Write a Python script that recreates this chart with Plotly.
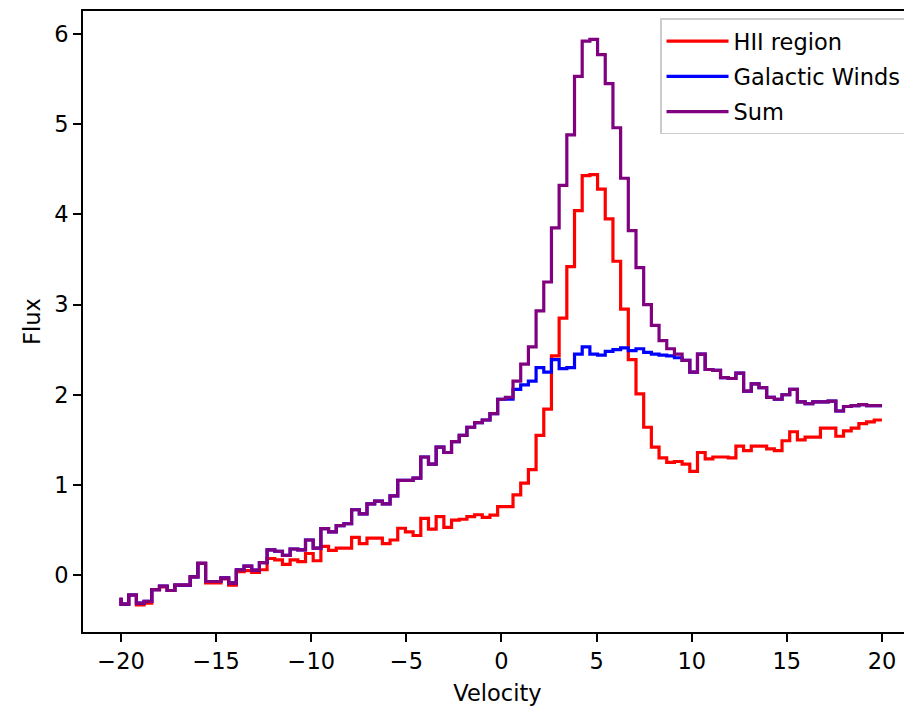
import numpy as np
import plotly.graph_objects as go

# Velocity grid (100 points from -20 to 20)
velocity = np.linspace(-20, 20, 100)

hii_region = [
    -0.25, -0.32, -0.22, -0.33, -0.31, -0.16, -0.13, -0.17, -0.11, -0.11,
    -0.02, 0.13, -0.085, -0.085, -0.04, -0.11, 0.04, 0.05, 0.03, 0.06,
    0.185, 0.17, 0.12, 0.17, 0.15, 0.24, 0.16, 0.32, 0.275, 0.30,
    0.30, 0.42, 0.35, 0.41, 0.41, 0.35, 0.39, 0.52, 0.48, 0.44,
    0.63, 0.51, 0.65, 0.53, 0.61, 0.62, 0.65, 0.67, 0.64, 0.665,
    0.76, 0.76, 0.89, 1.02, 1.17, 1.55, 1.84, 2.43, 2.85, 3.42,
    4.04, 4.43, 4.44, 4.28, 3.95, 3.48, 2.95, 2.39, 2.01, 1.64,
    1.42, 1.30, 1.25, 1.26, 1.23, 1.15, 1.36, 1.29, 1.31, 1.31,
    1.30, 1.43, 1.38, 1.43, 1.43, 1.40, 1.38, 1.49, 1.59, 1.50,
    1.53, 1.53, 1.63, 1.63, 1.54, 1.60, 1.63, 1.68, 1.70, 1.72,
]

galactic_winds = [
    -0.25, -0.32, -0.22, -0.31, -0.29, -0.16, -0.12, -0.17, -0.11, -0.11,
    -0.02, 0.13, -0.07, -0.07, -0.03, -0.085, 0.06, 0.10, 0.055, 0.14,
    0.28, 0.265, 0.22, 0.29, 0.28, 0.39, 0.30, 0.515, 0.48, 0.55,
    0.57, 0.725, 0.68, 0.79, 0.82, 0.79, 0.88, 1.05, 1.05, 1.075,
    1.31, 1.23, 1.42, 1.36, 1.48, 1.55, 1.64, 1.69, 1.72, 1.79,
    1.95, 1.95, 2.06, 2.11, 2.15, 2.30, 2.25, 2.39, 2.29, 2.30,
    2.45, 2.53, 2.45, 2.44, 2.48, 2.50, 2.52, 2.49, 2.51, 2.47,
    2.45, 2.44, 2.43, 2.41, 2.38, 2.25, 2.45, 2.28, 2.27, 2.19,
    2.18, 2.24, 2.04, 2.12, 2.08, 1.97, 1.95, 2.00, 2.06, 1.92,
    1.90, 1.92, 1.92, 1.93, 1.82, 1.87, 1.88, 1.89, 1.88, 1.88,
]

flux_sum = [
    -0.25, -0.32, -0.22, -0.31, -0.29, -0.16, -0.12, -0.17, -0.11, -0.11,
    -0.02, 0.13, -0.07, -0.07, -0.03, -0.085, 0.06, 0.10, 0.055, 0.14,
    0.28, 0.265, 0.22, 0.29, 0.28, 0.39, 0.30, 0.515, 0.48, 0.55,
    0.57, 0.725, 0.68, 0.79, 0.82, 0.79, 0.88, 1.05, 1.05, 1.075,
    1.31, 1.23, 1.42, 1.36, 1.48, 1.55, 1.64, 1.69, 1.72, 1.79,
    1.95, 1.97, 2.15, 2.34, 2.53, 2.93, 3.25, 3.85, 4.32, 4.88,
    5.53, 5.92, 5.94, 5.77, 5.45, 4.96, 4.40, 3.82, 3.41, 3.00,
    2.77, 2.60, 2.51, 2.45, 2.38, 2.25, 2.45, 2.28, 2.27, 2.19,
    2.18, 2.24, 2.04, 2.12, 2.08, 1.97, 1.95, 2.00, 2.06, 1.92,
    1.90, 1.92, 1.92, 1.93, 1.82, 1.87, 1.88, 1.89, 1.88, 1.88,
]

series = [
    ("HII region", hii_region, "red"),
    ("Galactic Winds", galactic_winds, "blue"),
    ("Sum", flux_sum, "purple"),
]

x_ticks = [-20, -15, -10, -5, 0, 5, 10, 15, 20]
y_ticks = [0, 1, 2, 3, 4, 5, 6]

fig = go.Figure()
for name, vals, color in series:
    fig.add_trace(go.Scatter(
        x=velocity, y=vals, mode="lines", name=name, legendgroup=name,
        line=dict(shape="vh", color=color, width=3.2),
    ))

font = dict(family="DejaVu Sans", size=22.5, color="black")

fig.update_layout(
    width=912, height=710,
    margin=dict(l=75, r=8, t=1, b=86),
    paper_bgcolor="white", plot_bgcolor="white",
    font=font,
    showlegend=True,
    legend=dict(
        x=0.994, y=0.988, xanchor="right", yanchor="top",
        bgcolor="rgba(255,255,255,0.8)", bordercolor="#cccccc", borderwidth=1.5,
        font=font, tracegroupgap=3, itemwidth=62,
    ),
    xaxis=dict(
        range=[-22, 21.58], tickvals=x_ticks, ticks="outside", ticklen=8,
        tickwidth=1.8, tickcolor="black", showline=True, linecolor="black",
        linewidth=1.8, mirror=True, showgrid=False, zeroline=False,
        title=dict(text="Velocity", font=font, standoff=12),
    ),
    yaxis=dict(
        range=[-0.63, 6.254], tickvals=y_ticks, ticks="outside", ticklen=8,
        tickwidth=1.8, tickcolor="black", showline=True, linecolor="black",
        linewidth=1.8, showgrid=False, zeroline=False,
        title=dict(text="Flux", font=font, standoff=7),
    ),
)

fig.write_html("out.html")
